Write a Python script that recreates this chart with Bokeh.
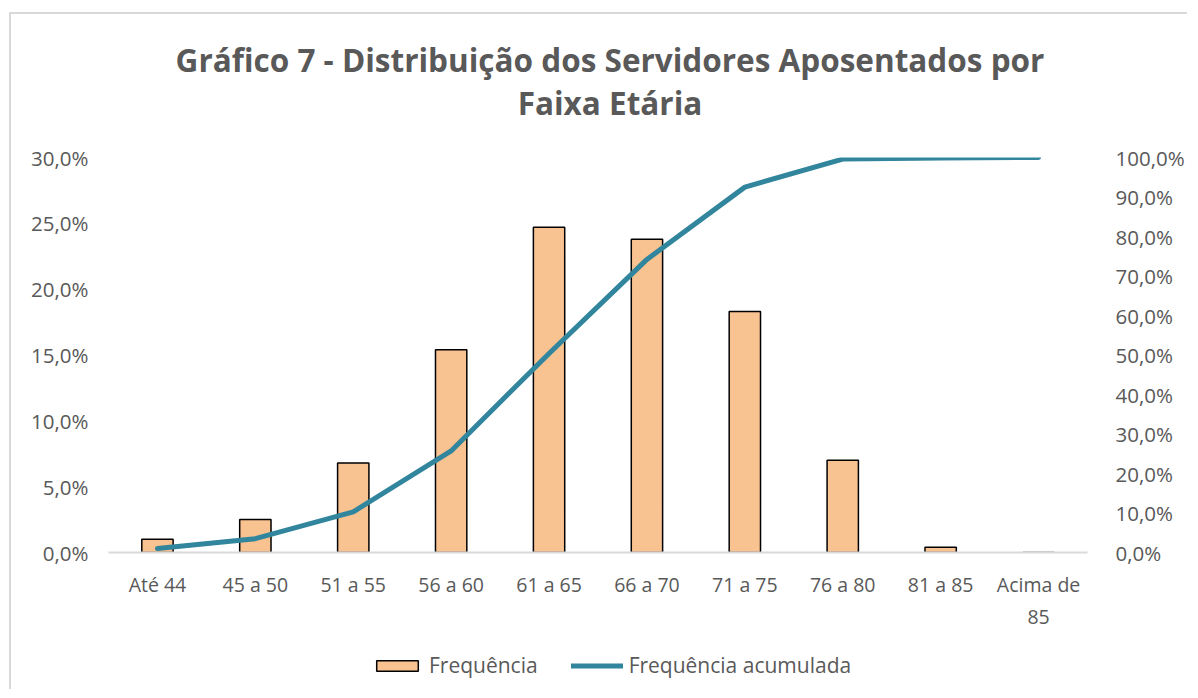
from bokeh.plotting import figure
from bokeh.layouts import column
from bokeh.models import (Range1d, FactorRange, LinearAxis, FixedTicker, CustomJSTickFormatter,
                          Legend, LegendItem, ColumnDataSource, Div)
from bokeh.embed import file_html
from bokeh.resources import INLINE

categories = ["Até 44", "45 a 50", "51 a 55", "56 a 60", "61 a 65", "66 a 70",
              "71 a 75", "76 a 80", "81 a 85", "Acima de\n85"]
frequencia = [1.0, 2.5, 6.8, 15.4, 24.7, 23.8, 18.3, 7.0, 0.4, 0.0]
acumulada = [1.0, 3.5, 10.3, 25.7, 50.4, 74.2, 92.5, 99.6, 99.9, 100.0]
left_ticks = [0, 5, 10, 15, 20, 25, 30]
right_ticks = [0, 10, 20, 30, 40, 50, 60, 70, 80, 90, 100]
title_lines = ["Gráfico 7 - Distribuição dos Servidores Aposentados por", "Faixa Etária"]
legend_labels = ["Frequência", "Frequência acumulada"]

FONT = "Open Sans"
GREY = "#595959"
BAR_FILL = "#F8C291"
LINE_COLOR = "#31859C"
W = 1176

src = ColumnDataSource(dict(cat=categories, freq=frequencia, acum=acumulada))

# title block
title = Div(text=(f'<div style="text-align:center;font-family:\'{FONT}\';font-weight:bold;'
                  f'font-size:31.5px;color:{GREY};line-height:43px;padding-top:24px;'
                  f'position:relative;left:11px;width:{W}px;">'
                  f'{title_lines[0]}<br>{title_lines[1]}</div>'),
            width=W, height=115, margin=0)

p = figure(x_range=categories, y_range=Range1d(0, 30), width=W, height=510,
           output_backend="svg", toolbar_location=None, title=None,
           min_border_left=97, min_border_right=89, min_border_top=28,
           min_border_bottom=87)
p.outline_line_color = None
p.xgrid.visible = False
p.ygrid.visible = False

p.extra_y_ranges = {"acum": Range1d(0, 100)}

p.vbar(x="cat", top="freq", width=0.32, source=src, fill_color=BAR_FILL,
       line_color="black", line_width=1.5)
p.line(x="cat", y="acum", source=src, y_range_name="acum", line_color=LINE_COLOR,
       line_width=5, line_cap="round", line_join="round")

fmt = CustomJSTickFormatter(code="return tick.toFixed(1).replace('.', ',') + '%';")

def style_axis(ax, size):
    ax.major_tick_line_color = None
    ax.minor_tick_line_color = None
    ax.axis_line_color = None
    ax.major_label_text_font = FONT
    ax.major_label_text_font_size = size
    ax.major_label_text_color = GREY

ya = p.yaxis[0]
ya.ticker = FixedTicker(ticks=left_ticks)
ya.formatter = fmt
style_axis(ya, "20.5px")
ya.major_label_standoff = 14

ra = LinearAxis(y_range_name="acum", ticker=FixedTicker(ticks=right_ticks), formatter=fmt)
style_axis(ra, "20.5px")
ra.major_label_standoff = 22
p.add_layout(ra, "right")

xa = p.xaxis[0]
style_axis(xa, "19.5px")
xa.axis_line_color = "#d9d9d9"
xa.axis_line_width = 2
xa.major_label_standoff = 12

# legend strip below the chart (same data; renderers hidden, only legend entries shown)
lg = figure(width=W, height=50, output_backend="svg", toolbar_location=None,
            x_range=FactorRange(factors=categories), y_range=Range1d(0, 30),
            min_border_left=97, min_border_right=89, min_border_top=0, min_border_bottom=0)
lg.axis.visible = False
lg.grid.visible = False
lg.outline_line_color = None
r_bar = lg.vbar(x="cat", top="freq", width=0.32, source=src, fill_color=BAR_FILL,
                line_color="black", line_width=1.5, visible=False)
r_line = lg.line(x="cat", y="acum", source=src, line_color=LINE_COLOR, line_width=5,
                 line_cap="round", visible=False)
legend = Legend(items=[LegendItem(label=legend_labels[0], renderers=[r_bar]),
                       LegendItem(label=legend_labels[1], renderers=[r_line])],
                orientation="horizontal", location=(263, 10),
                border_line_color=None, background_fill_alpha=0, inactive_fill_alpha=0,
                label_text_font=FONT, label_text_font_size="21px", label_text_color=GREY,
                glyph_width=52, glyph_height=13, spacing=33, label_standoff=6,
                margin=0, padding=0)
lg.add_layout(legend, "center")

layout = column(title, p, lg, spacing=0)
layout.margin = (12, 0, 0, 9)
layout.styles = {"border-top": "2px solid #d9d9d9", "border-left": "2px solid #d9d9d9"}

open("out.html", "w").write(file_html(layout, INLINE))
